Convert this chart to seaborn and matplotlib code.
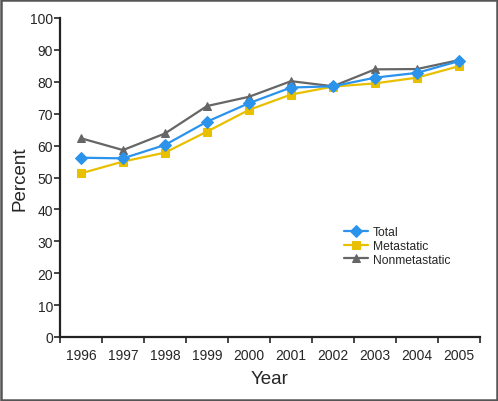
import numpy as np
import pandas as pd
import seaborn as sns
import matplotlib.pyplot as plt
from matplotlib.patches import Rectangle

# Values
years = ['1996', '1997', '1998', '1999', '2000', '2001', '2002', '2003', '2004', '2005']
total = [56.2, 56.0, 60.2, 67.5, 73.3, 78.2, 78.6, 81.3, 82.8, 86.5]
metastatic = [51.3, 55.0, 57.8, 64.4, 71.2, 76.0, 78.5, 79.5, 81.3, 84.9]
nonmetastatic = [62.3, 58.6, 63.8, 72.4, 75.3, 80.2, 78.6, 83.9, 84.0, 86.8]

df = pd.DataFrame({
    'pos': list(range(len(years))) * 3,
    'value': total + metastatic + nonmetastatic,
    'series': ['Total'] * 10 + ['Metastatic'] * 10 + ['Nonmetastatic'] * 10,
})

sns.set_style("ticks")
plt.rcParams['font.family'] = ['Liberation Sans', 'DejaVu Sans']

fig = plt.figure(figsize=(4.98, 4.02), dpi=100)
ax = fig.add_axes([60 / 498, 1 - 338 / 402, 420 / 498, 319 / 402])

styles = {
    'Nonmetastatic': ('#666666', '^', 6),
    'Metastatic': ('#e8c000', 's', 6),
    'Total': ('#2b93ec', 'D', 6),
}
for name in ['Nonmetastatic', 'Metastatic', 'Total']:
    color, mk, ms = styles[name]
    sub = df[df['series'] == name]
    sns.lineplot(data=sub, x='pos', y='value', ax=ax, color=color, marker=mk,
                 markersize=ms, markeredgecolor=color, linewidth=1.6, label=name)

h, l = ax.get_legend_handles_labels()
order = [l.index('Total'), l.index('Metastatic'), l.index('Nonmetastatic')]
ax.legend([h[i] for i in order], [l[i] for i in order], frameon=False,
          fontsize=8.7, loc='upper left', bbox_to_anchor=(344 / 498, 1 - 227 / 402),
          bbox_transform=fig.transFigure, borderpad=0, borderaxespad=0,
          labelspacing=0.15, handlelength=2.0, handletextpad=0.4)

ax.set_xlim(-0.5, 9.5)
ax.set_ylim(0, 100)
ax.set_yticks(range(0, 101, 10))
ax.set_xticks(np.arange(-0.5, 10, 1))
ax.set_xticklabels([])
ax.set_xticks(range(10), minor=True)
ax.set_xticklabels(years, minor=True)
ax.tick_params(axis='x', which='minor', length=0, pad=8, labelsize=10)
ax.tick_params(axis='x', which='major', length=4, width=1.2, direction='out')
ax.tick_params(axis='y', length=4, width=1.2, labelsize=10, pad=1)

ax.set_xlabel('Year', fontsize=13.5, labelpad=6)
ax.set_ylabel('Percent', fontsize=13.5, labelpad=1)

sns.despine(ax=ax)
for s in ['left', 'bottom']:
    ax.spines[s].set_linewidth(1.6)
    ax.spines[s].set_color('#222222')

fig.patches.append(Rectangle((0.002, 0.002), 0.996, 0.996, transform=fig.transFigure,
                             fill=False, edgecolor='#555555', linewidth=1.8))

fig.savefig('out.png', dpi=100)
